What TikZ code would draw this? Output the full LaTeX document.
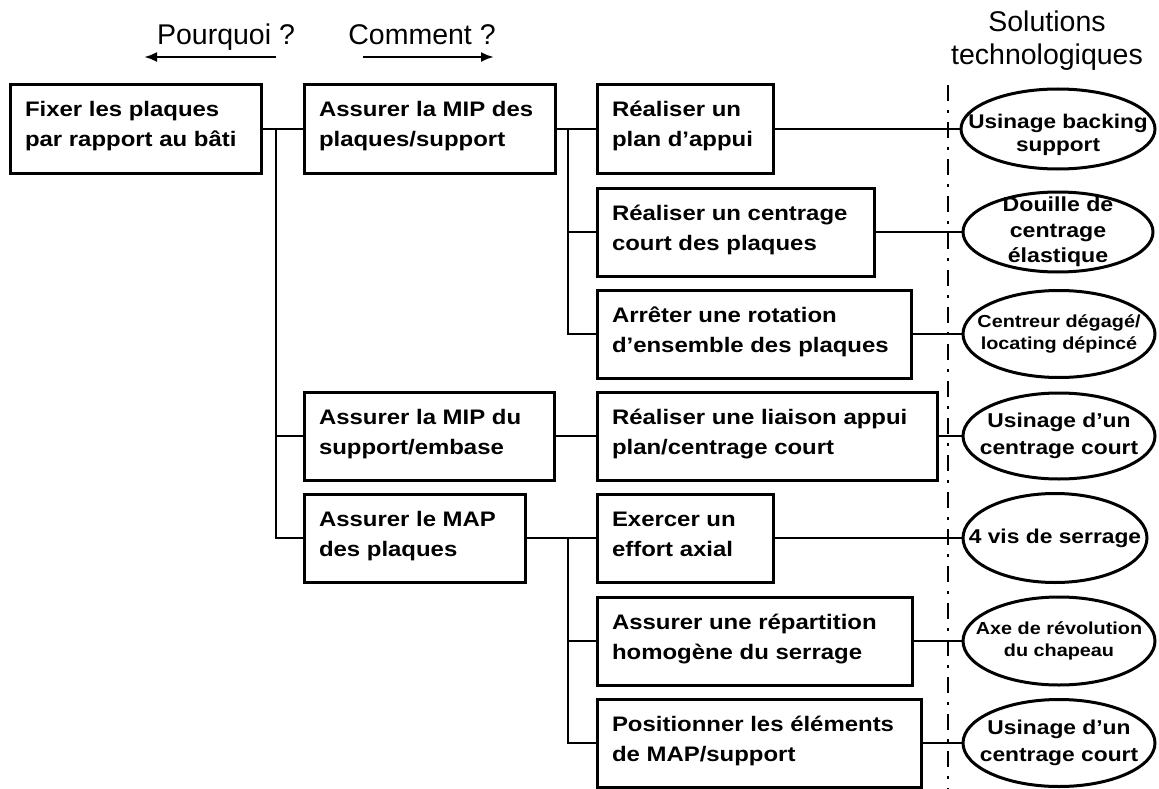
\documentclass[tikz,border=0pt]{standalone}
\usepackage{fontspec}
\setmainfont{Liberation Sans}
\newfontfamily\bxf[FakeStretch=1.14]{Liberation Sans}
\usetikzlibrary{arrows.meta,shapes.geometric,calc}
\newcommand\bxlines[2]{\makebox[\dimexpr#1pt-30pt\relax][l]{\begin{tabular}[t]{@{}l@{}}#2\end{tabular}}}
\tikzset{
  fbox/.style={draw, line width=3pt, inner xsep=15pt, inner ysep=0pt, outer sep=0pt,
    text height=32pt, text depth=56pt, anchor=north west,
    font=\bxf\bfseries\fontsize{21}{30}\selectfont},
  conn/.style={line width=2pt},
  ell/.style={draw, ellipse, line width=3pt, inner sep=0pt},
  etxt/.style={align=center, inner sep=0pt, font=\bxf\bfseries\fontsize{20}{25}\selectfont},
  etxs/.style={align=center, inner sep=0pt, font=\bxf\bfseries\fontsize{17.4}{22}\selectfont},
  hd/.style={inner sep=0pt, font=\fontsize{28.5}{33}\selectfont},
  harrow/.style={line width=2.5pt, -{Latex[length=13pt,width=10pt]}},
  axisline/.style={line width=2pt, dash pattern=on 16pt off 9pt on 3pt off 9pt}
}
\begin{document}
\begin{tikzpicture}[x=1pt,y=-1pt]
\useasboundingbox (0,0) rectangle (1159,789);

% headers
\node[hd, anchor=base] (why) at (226,45) {Pourquoi ?};
\node[hd, anchor=base] (how) at (422,45) {Comment ?};
\node[hd, anchor=base] (sol) at (1047,32) {\begin{tabular}[t]{@{}c@{}}Solutions\\technologiques\end{tabular}};
\coordinate (wa) at (276,57); \coordinate (wb) at (144,57);
\coordinate (ha) at (363,57); \coordinate (hb) at (494,57);
\draw[harrow] (wa) -- (wb);
\draw[harrow] (ha) -- (hb);

% axis line
\coordinate (dt) at (948,85); \coordinate (db) at (948,789);
\draw[axisline] (dt) -- (db);

% boxes
\node[fbox] (b1) at (10,85) {\bxlines{251}{Fixer les plaques\\par rapport au bâti}};
\node[fbox] (b2) at (304,85) {\bxlines{251}{Assurer la MIP des\\plaques/support}};
\node[fbox] (b10) at (304,392) {\bxlines{250}{Assurer la MIP du\\support/embase}};
\node[fbox] (b11) at (304,494) {\bxlines{221}{Assurer le MAP\\des plaques}};
\node[fbox] (b3) at (597,85) {\bxlines{176}{Réaliser un\\plan d’appui}};
\node[fbox] (b4) at (597,188) {\bxlines{277}{Réaliser un centrage\\court des plaques}};
\node[fbox] (b5) at (597,290) {\bxlines{314}{Arrêter une rotation\\d’ensemble des plaques}};
\node[fbox] (b6) at (597,392) {\bxlines{340}{Réaliser une liaison appui\\plan/centrage court}};
\node[fbox] (b7) at (597,494) {\bxlines{176}{Exercer un\\effort axial}};
\node[fbox] (b8) at (597,597) {\bxlines{315}{Assurer une répartition\\homogène du serrage}};
\node[fbox] (b9) at (597,699) {\bxlines{324}{Positionner les éléments\\de MAP/support}};

% ellipses
\coordinate (ex) at (1058,0);
\coordinate (exb) at (1059,0);
\coordinate (exc) at (1055,0);
\node[ell, minimum width=194pt, minimum height=80pt,
  label={[etxt, yshift=-6pt, font=\bxf\bfseries\fontsize{19.8}{23}\selectfont]center:Usinage backing\\support}] (e1) at (b3.east -| ex) {};
\node[ell, minimum width=190pt, minimum height=80pt,
  label={[etxt, font=\bxf\bfseries\fontsize{20.3}{25.5}\selectfont]center:Douille de\\centrage\\élastique}] (e2) at (b4.east -| ex) {};
\node[ell, minimum width=192pt, minimum height=87pt,
  label={[etxs]center:Centreur dégagé/\\locating dépincé}] (e3) at (b5.east -| exb) {};
\node[ell, minimum width=192pt, minimum height=86pt,
  label={[etxt, font=\bxf\bfseries\fontsize{20}{27}\selectfont]center:Usinage d’un\\centrage court}] (e4) at (b6.east -| exb) {};
\node[ell, minimum width=184pt, minimum height=89pt,
  label={[etxt]center:4 vis de serrage}] (e5) at (b7.east -| exc) {};
\node[ell, minimum width=192pt, minimum height=88pt,
  label={[etxs]center:Axe de révolution\\du chapeau}] (e6) at (b8.east -| exb) {};
\node[ell, minimum width=192pt, minimum height=87pt,
  label={[etxt, font=\bxf\bfseries\fontsize{20}{27}\selectfont]center:Usinage d’un\\centrage court}] (e7) at (b9.east -| exb) {};

% connectors
\coordinate (vx1) at (276,0);
\coordinate (vx2) at (568,0);
\coordinate (j1) at (b1.east -| vx1);
\coordinate (j2) at (b2.east -| vx2);
\coordinate (j3) at (b11.east -| vx2);
\draw[conn] (b1.east) -- (b2.west);
\draw[conn] (j1) |- (b10.west);
\draw[conn] (j1) |- (b11.west);
\draw[conn] (b2.east) -- (b3.west);
\draw[conn] (j2) |- (b4.west);
\draw[conn] (j2) |- (b5.west);
\draw[conn] (b10.east) -- (b6.west);
\draw[conn] (b11.east) -- (b7.west);
\draw[conn] (j3) |- (b8.west);
\draw[conn] (j3) |- (b9.west);
\draw[conn] (b3.east) -- (e1.west);
\draw[conn] (b4.east) -- (e2.west);
\draw[conn] (b5.east) -- (e3.west);
\draw[conn] (b6.east) -- (e4.west);
\draw[conn] (b7.east) -- (e5.west);
\draw[conn] (b8.east) -- (e6.west);
\draw[conn] (b9.east) -- (e7.west);
\end{tikzpicture}
\end{document}
